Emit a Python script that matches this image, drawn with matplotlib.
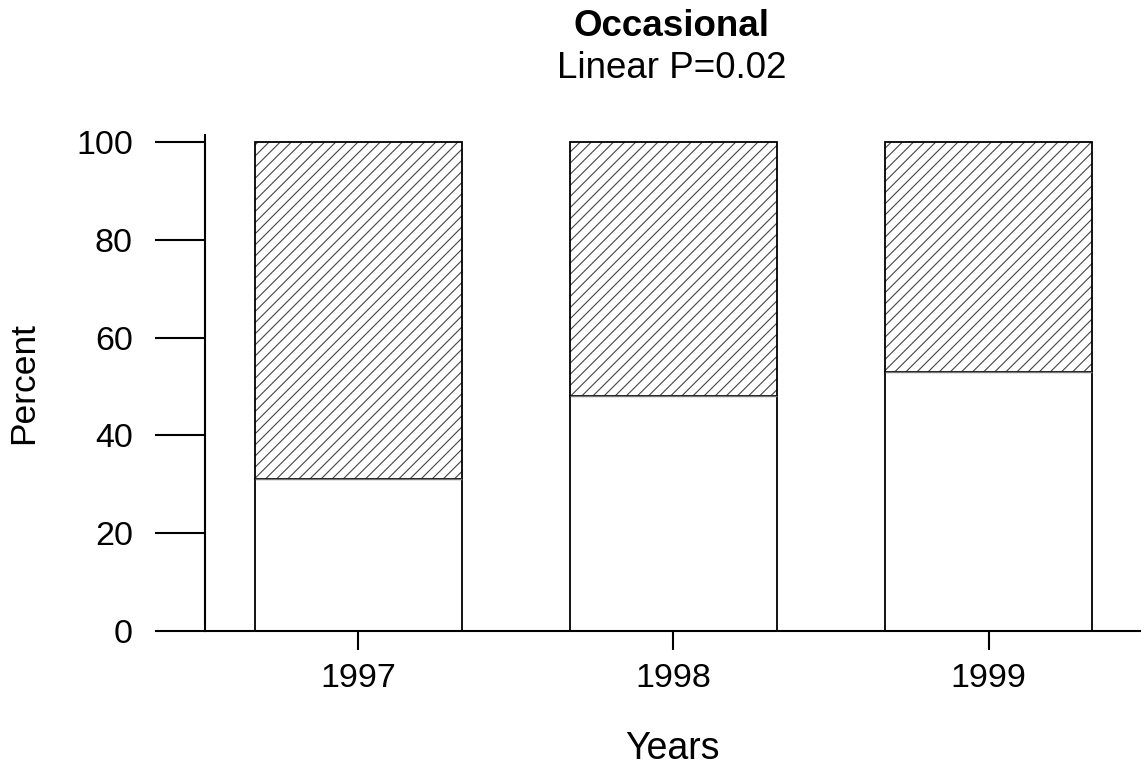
import matplotlib.pyplot as plt
import numpy as np

# Data
years = ["1997", "1998", "1999"]
lower = [31, 48, 53]          # white (unhatched) part, percent
upper = [69, 52, 47]          # hatched part, percent
yticks = [0, 20, 40, 60, 80, 100]

plt.rcParams['font.family'] = ['Liberation Sans', 'DejaVu Sans']
plt.rcParams['hatch.linewidth'] = 0.8

fig = plt.figure(figsize=(11.45, 7.7), dpi=100)
ax = fig.add_axes([205 / 1145, 1 - 631 / 770, (1140 - 205) / 1145, (631 - 135) / 770])

x = np.arange(len(years))
w = 0.657

# bottom (white) segments
ax.bar(x, lower, width=w, color="white", edgecolor="black", linewidth=1.3, zorder=2)
# top (hatched) segments: hatch drawn in gray, outline drawn separately in black
ax.bar(x, upper, bottom=lower, width=w, color="white", edgecolor="#444444",
       hatch="///", linewidth=0, zorder=2)
ax.bar(x, upper, bottom=lower, width=w, fill=False, edgecolor="black",
       linewidth=1.3, zorder=3)
ax.bar(x, [0] * len(x), bottom=lower, width=w, fill=False, edgecolor="#777777",
       linewidth=1.0, zorder=3)

ax.set_xlim(-0.486, 2.48)
ax.set_ylim(0, 101.4)
ax.set_xticks(x)
ax.set_xticklabels(years)
ax.set_yticks(yticks)

for s in ["top", "right"]:
    ax.spines[s].set_visible(False)
for s in ["left", "bottom"]:
    ax.spines[s].set_linewidth(1.5)

ax.tick_params(axis="y", direction="out", length=36, width=1.5, pad=16, labelsize=24.5)
ax.tick_params(axis="x", direction="out", length=14, width=1.5, pad=9, labelsize=24.5)

ax.set_ylabel("Percent", fontsize=25.5, labelpad=26)
ax.set_xlabel("Years", fontsize=27, labelpad=27)

fig.text(672 / 1145, 1 - 27 / 770, "Occasional", ha="center", va="center",
         fontsize=26.5, fontweight="bold")
fig.text(672 / 1145, 1 - 68 / 770, "Linear P=0.02", ha="center", va="center",
         fontsize=26.5)

fig.savefig("out.png", dpi=100)
